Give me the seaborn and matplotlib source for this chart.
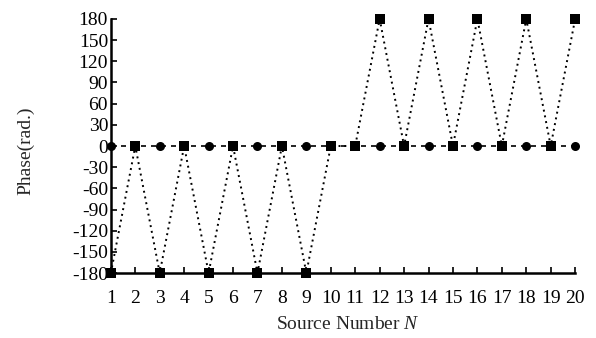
import matplotlib
matplotlib.use("Agg")
import matplotlib.pyplot as plt
import seaborn as sns

# Source index and phase of each source for the two configurations
source_n = list(range(1, 21))
phase_circles = [0] * 20
phase_squares = [-180, 0, -180, 0, -180, 0, -180, 0, -180, 0,
                 0, 180, 0, 180, 0, 180, 0, 180, 0, 180]
y_ticks = list(range(-180, 181, 30))

sns.set_theme(style="ticks")
plt.rcParams["font.family"] = ["Liberation Serif", "DejaVu Serif"]
plt.rcParams["mathtext.fontset"] = "custom"
plt.rcParams["mathtext.it"] = "Liberation Serif:italic"
plt.rcParams["axes.unicode_minus"] = False

fig = plt.figure(figsize=(5.96, 3.38), dpi=100)
ax = fig.add_axes([0.186, 0.192, 0.779, 0.752])

sns.lineplot(x=source_n, y=phase_circles, ax=ax, color="black",
             marker="o", markersize=6.5, markeredgewidth=0,
             linewidth=1.2, linestyle=(0, (3, 3)), clip_on=False,
             estimator=None, zorder=3)
sns.lineplot(x=source_n, y=phase_squares, ax=ax, color="black",
             marker="s", markersize=6.5, markeredgewidth=0,
             linewidth=1.4, linestyle=(0, (1, 2)), clip_on=False,
             estimator=None, zorder=4)

ax.set_xlim(1, 20)
ax.set_ylim(-180, 180)
ax.set_xticks(source_n)
ax.set_yticks(y_ticks)
ax.tick_params(direction="in", length=4, width=1.2, labelsize=14,
               colors="black")
ax.tick_params(axis="x", pad=12)
ax.tick_params(axis="y", pad=2)
for side in ("top", "right"):
    ax.spines[side].set_visible(False)
for side in ("left", "bottom"):
    ax.spines[side].set_linewidth(1.8)
    ax.spines[side].set_color("black")

ax.set_xlabel("Source Number $\\mathit{N}$", fontsize=14)
ax.set_ylabel("Phase(rad.)", fontsize=14)
ax.xaxis.set_label_coords(0.51, -0.17)
ax.yaxis.set_label_coords(-0.165, 0.48)

fig.savefig("out.png", dpi=100, facecolor="white")
